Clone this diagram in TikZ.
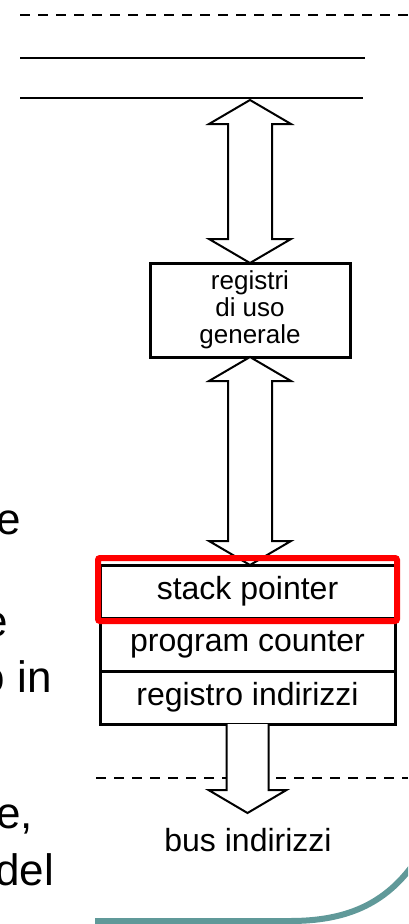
\documentclass[tikz,border=0pt]{standalone}
\usepackage{fontspec}
\setmainfont{Liberation Sans}
\usetikzlibrary{positioning,calc}
\definecolor{tealband}{RGB}{96,153,153}
\tikzset{
  box_txt/.style = {align=center, inner sep=0pt, text centered, font=\fontsize{32}{36}\selectfont},
  reg_box/.style = {box_txt, draw=black, line width=3pt, outer sep=0pt},
  reg_gen/.style = {reg_box, minimum width=200pt, minimum height=94pt, font=\fontsize{26}{27}\selectfont},
  reg_row/.style = {reg_box, minimum width=295pt, minimum height=53pt},
  bus_arrow/.style = {draw=black, fill=white, line width=2pt, line join=miter},
  bus_line/.style = {draw=black, line width=2pt},
  bus_dash/.style = {bus_line, dash pattern=on 10pt off 8pt},
  hilite/.style = {draw=red, line width=6pt, rounded corners=2pt},
  side_txt/.style = {anchor=base east, inner sep=0pt, font=\fontsize{44}{53}\selectfont},
  band/.style = {draw=tealband, line width=6pt}
}
\newcommand{\dblbus}[2]{%
  \draw[bus_arrow] (#1) -- ($(#1)+(41,24)$) -- ($(#1)+(22,24)$) -- ($(#2)+(22,-24)$)
    -- ($(#2)+(41,-24)$) -- (#2) -- ($(#2)+(-41,-24)$) -- ($(#2)+(-22,-24)$)
    -- ($(#1)+(-22,24)$) -- ($(#1)+(-41,24)$) -- cycle;}

\begin{document}
\begin{tikzpicture}[x=1pt, y=-1pt]
\useasboundingbox (0,0) rectangle (408,924);
\clip (0,0) rectangle (408,924);

\draw[bus_dash] (20,15) -- (408,15);
\draw[bus_line] (20,58) -- (365,58);
\draw[bus_line] (20,98) -- (363,98);
\draw[bus_dash] (96,778) -- (408,778);

\node [reg_gen] (gpr) at (250,310) {registri\\di uso\\generale};
\node [reg_row] (sp) at (247.5,591.5) {stack pointer};
\node [reg_row, below=0pt of sp] (pc) {program counter};
\node [reg_row, below=0pt of pc] (ri) {registro indirizzi};
\node [box_txt] (busaddr) at (248,840) {bus indirizzi};

\coordinate (bustop) at (250,100);
\coordinate (sptop) at (gpr.south |- sp.north);
\coordinate (bustip) at ($(ri.south)+(0,89)$);

\dblbus{bustop}{gpr.north}
\dblbus{gpr.south}{sptop}
\draw[bus_arrow] ($(ri.south)+(-21,0)$) -- ($(bustip)+(-21,-23)$) -- ($(bustip)+(-39,-23)$)
	-- (bustip) -- ($(bustip)+(39,-23)$) -- ($(bustip)+(21,-23)$) -- ($(ri.south)+(21,0)$);

\draw[hilite] ($(sp.north west)+(-2,-7)$) rectangle ($(sp.south east)+(2,3)$);

\node [side_txt] (t1) at (21,534) {e};
\node [side_txt] (t2) at (8,636) {e};
\node [side_txt] (t3) at (52,692) {o in};
\node [side_txt] (t4) at (33,828) {e,};
\node [side_txt] (t5) at (54,885) {del};

\draw[band] (95,921) -- (290,921) .. controls (345,921) and (385,905) .. (415,862);
\end{tikzpicture}
\end{document}
